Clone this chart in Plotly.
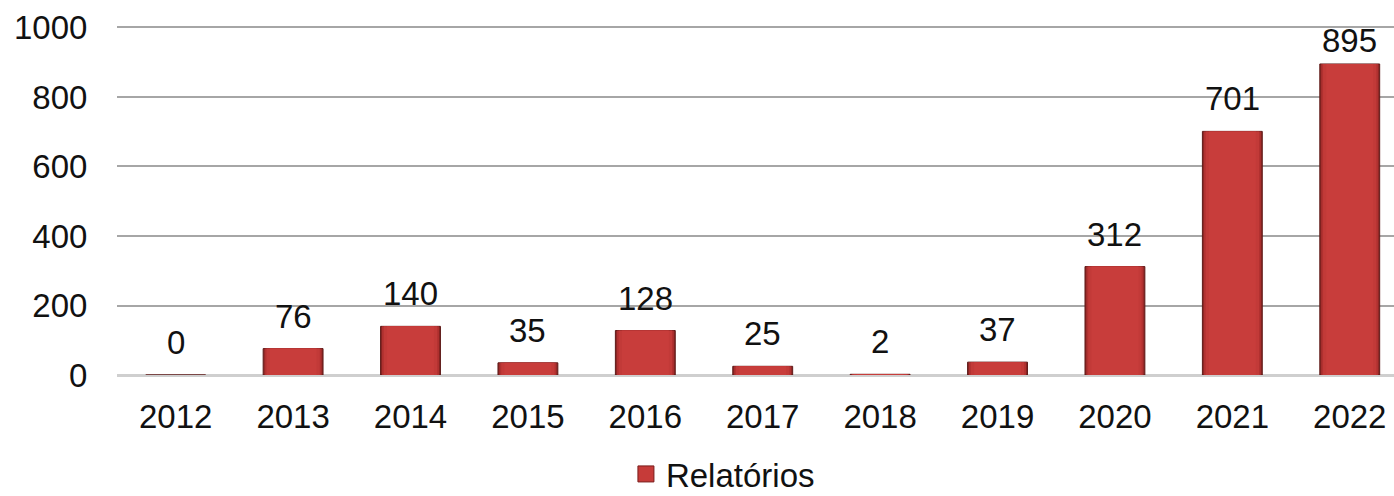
import plotly.graph_objects as go

years = ["2012", "2013", "2014", "2015", "2016", "2017", "2018", "2019", "2020", "2021", "2022"]
relatorios = [0, 76, 140, 35, 128, 25, 2, 37, 312, 701, 895]
y_ticks = [0, 200, 400, 600, 800, 1000]
series_name = "Relatórios"

FONT = "Liberation Sans, Arial, sans-serif"
Y_MAX = 1010
TOP, BOTTOM, HEIGHT = 24, 121, 496
PX_PER_UNIT = (HEIGHT - TOP - BOTTOM) / Y_MAX

fig = go.Figure()
# layered bars to mimic the shaded fill (dark edges, lighter middle)
layers = [
    (0.51, "#8a2523", "#5e1a18", 1),
    (0.485, "#b03130", None, 0),
    (0.455, "#c23a38", None, 0),
    (0.40, "#c83d3b", None, 0),
]
for w, col, lc, lw in layers:
    fig.add_trace(go.Bar(
        x=years, y=relatorios, width=w,
        marker=dict(color=col, line=dict(color=lc or col, width=lw)),
        showlegend=False, hoverinfo="skip",
    ))

# legend item
fig.add_trace(go.Scatter(
    x=[None], y=[None], mode="markers", name=series_name,
    marker=dict(symbol="square", size=20, color="#c63b39", line=dict(color="#7a1c1a", width=1)),
))

for i, v in enumerate(relatorios):
    # keep the label inside the plotting area (as the original does for the tallest bar)
    room = (Y_MAX - v) * PX_PER_UNIT - 56
    shift = max(3, min(12, room))
    fig.add_annotation(x=i, y=v, text=str(v), showarrow=False,
                       yanchor="bottom", yshift=shift,
                       font=dict(family=FONT, size=33, color="#111111"))

fig.update_layout(
    width=1394, height=HEIGHT,
    margin=dict(l=117, r=0, t=TOP, b=BOTTOM, autoexpand=False),
    paper_bgcolor="white", plot_bgcolor="white",
    barmode="overlay",
    font=dict(family=FONT, size=33, color="#111111"),
    showlegend=True,
    legend=dict(orientation="h", x=0.4745, xanchor="center", y=-0.282, yanchor="middle",
                font=dict(family=FONT, size=33, color="#111111"), itemsizing="trace"),
    xaxis=dict(type="category", range=[-0.5, 10.377], showgrid=False, zeroline=False, showline=False,
               ticks="outside", ticklen=12, tickcolor="rgba(0,0,0,0)",
               tickfont=dict(family=FONT, size=33, color="#111111")),
    yaxis=dict(range=[0, Y_MAX], tickvals=y_ticks, showgrid=True, gridcolor="#a6a6a6", gridwidth=2,
               zeroline=True, zerolinecolor="#cfcfcf", zerolinewidth=3, showline=False,
               ticks="outside", ticklen=22, tickcolor="rgba(0,0,0,0)",
               tickfont=dict(family=FONT, size=33, color="#111111")),
)

body = fig.to_html(full_html=False, include_plotlyjs=True, config={"displayModeBar": False})
html = ("<!DOCTYPE html><html><head><meta charset='utf-8'>"
        "<style>html,body{margin:0;padding:0;overflow:hidden;}</style></head><body>"
        + body + "</body></html>")
with open("out.html", "w", encoding="utf-8") as f:
    f.write(html)
